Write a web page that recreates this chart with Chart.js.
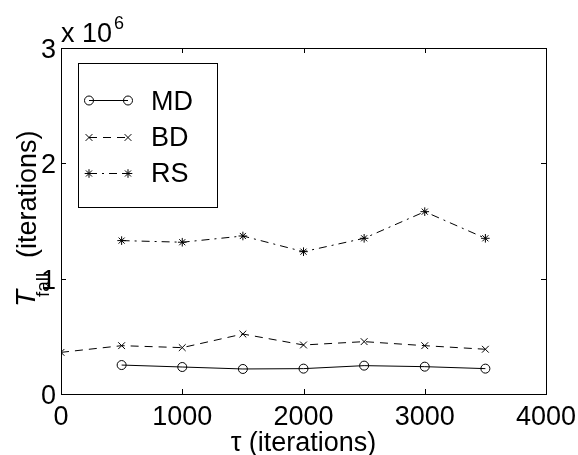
<!DOCTYPE html>
<html>
<head>
<meta charset="utf-8">
<script src="https://cdn.jsdelivr.net/npm/chart.js@4"></script>
<style>
html,body{margin:0;padding:0;background:#fff;}
#wrap{width:578px;height:455px;position:relative;}
</style>
</head>
<body>
<div id="wrap"><canvas id="c" width="578" height="455"></canvas></div>
<script>
// Data (values in iterations)
const tauMD = [500, 1000, 1500, 2000, 2500, 3000, 3500];
const valMD = [251000, 234000, 217000, 220000, 246000, 237000, 220000];
const tauBD = [0, 500, 1000, 1500, 2000, 2500, 3000, 3500];
const valBD = [361000, 419000, 402000, 520000, 425000, 454000, 419000, 388000];
const tauRS = [500, 1000, 1500, 2000, 2500, 3000, 3500];
const valRS = [1330000, 1316000, 1370000, 1234000, 1350000, 1581000, 1350000];
const xTicks = [0, 1000, 2000, 3000, 4000];
const yTicks = [0, 1000000, 2000000, 3000000];
const seriesNames = ['MD', 'BD', 'RS'];

const FONT = '"Liberation Sans", Arial, Helvetica, sans-serif';
const pts = (xs, ys) => xs.map((x, i) => ({x: x, y: ys[i]}));

const styles = [
  {dash: [], point: 'circle', r: 4.5},
  {dash: [8, 6], point: 'crossRot', r: 4.8},
  {dash: [8, 5, 2, 5], point: 'star', r: 4.3}
];

const framePlugin = {
  id: 'frame',
  afterDraw(chart) {
    const ctx = chart.ctx;
    const a = chart.chartArea;
    const xs = chart.scales.x, ys = chart.scales.y;
    ctx.save();
    ctx.strokeStyle = '#000';
    ctx.lineWidth = 1;
    ctx.setLineDash([]);
    // box
    ctx.strokeRect(Math.round(a.left) + 0.5, Math.round(a.top) + 0.5, Math.round(a.right - a.left), Math.round(a.bottom - a.top));
    // inward ticks
    const tl = 5;
    ctx.beginPath();
    xTicks.forEach(v => {
      const px = Math.round(xs.getPixelForValue(v)) + 0.5;
      ctx.moveTo(px, a.bottom); ctx.lineTo(px, a.bottom - tl);
      ctx.moveTo(px, a.top); ctx.lineTo(px, a.top + tl);
    });
    yTicks.forEach(v => {
      const py = Math.round(ys.getPixelForValue(v)) + 0.5;
      ctx.moveTo(a.left, py); ctx.lineTo(a.left + tl, py);
      ctx.moveTo(a.right, py); ctx.lineTo(a.right - tl, py);
    });
    ctx.stroke();

    // tick labels
    ctx.fillStyle = '#000';
    ctx.font = '27px ' + FONT;
    ctx.textAlign = 'center';
    ctx.textBaseline = 'alphabetic';
    xTicks.forEach(v => {
      ctx.fillText(String(v), xs.getPixelForValue(v), a.bottom + 31);
    });
    ctx.textAlign = 'right';
    yTicks.forEach(v => {
      const py = ys.getPixelForValue(v);
      ctx.fillText(String(v / 1e6), a.left - 5, py + 10);
    });

    // exponent label
    ctx.textAlign = 'left';
    ctx.font = '27px ' + FONT;
    ctx.fillText('x 10', 61, 42);
    const w = ctx.measureText('x 10').width;
    ctx.font = '18px ' + FONT;
    ctx.fillText('6', 63 + w, 29);

    // x axis title
    ctx.font = '27px ' + FONT;
    ctx.textAlign = 'center';
    ctx.fillText('\u03C4 (iterations)', (a.left + a.right) / 2, 451);

    // y axis title (rotated)
    ctx.save();
    ctx.rotate(-Math.PI / 2);
    ctx.textAlign = 'left';
    ctx.textBaseline = 'alphabetic';
    ctx.font = 'italic 28px ' + FONT;
    ctx.fillText('T', -307, 35);
    ctx.font = '19px ' + FONT;
    ctx.fillText('fall', -297, 49);
    ctx.font = '27px ' + FONT;
    ctx.fillText('(iterations)', -258, 36);
    ctx.restore();

    // legend box
    const lx = 78, ly = 63, lw = 139, lh = 144;
    ctx.setLineDash([]);
    ctx.lineWidth = 1;
    ctx.strokeRect(lx + 0.5, ly + 0.5, lw, lh);
    const rows = [100, 137, 173];
    const bases = [110, 146, 182];
    chart.data.datasets.forEach((ds, i) => {
      const y = rows[i] + 0.5;
      const st = styles[i];
      ctx.save();
      ctx.strokeStyle = '#000';
      ctx.fillStyle = 'rgba(0,0,0,0)';
      ctx.lineWidth = 1;
      ctx.setLineDash(st.dash);
      ctx.beginPath();
      ctx.moveTo(89, y); ctx.lineTo(128, y);
      ctx.stroke();
      ctx.setLineDash([]);
      Chart.helpers.drawPoint(ctx, {pointStyle: st.point, radius: st.r, rotation: 0, borderWidth: 1}, 89, y);
      Chart.helpers.drawPoint(ctx, {pointStyle: st.point, radius: st.r, rotation: 0, borderWidth: 1}, 128, y);
      ctx.restore();
      ctx.fillStyle = '#000';
      ctx.font = '27px ' + FONT;
      ctx.textAlign = 'left';
      ctx.textBaseline = 'alphabetic';
      ctx.fillText(ds.label, 151, bases[i]);
    });
    ctx.restore();
  }
};

const mk = (i, data) => ({
  label: seriesNames[i],
  data: data,
  borderColor: '#000',
  backgroundColor: 'rgba(0,0,0,0)',
  borderWidth: 1,
  borderDash: styles[i].dash,
  pointStyle: styles[i].point,
  pointRadius: styles[i].r,
  pointBorderColor: '#000',
  pointBackgroundColor: 'rgba(0,0,0,0)',
  pointBorderWidth: 1,
  tension: 0,
  fill: false
});

new Chart(document.getElementById('c'), {
  type: 'line',
  data: {
    datasets: [
      mk(0, pts(tauMD, valMD)),
      mk(1, pts(tauBD, valBD)),
      mk(2, pts(tauRS, valRS))
    ]
  },
  options: {
    responsive: false,
    animation: false,
    devicePixelRatio: 1,
    layout: {padding: {left: 0, top: 48, right: 32, bottom: 0}},
    plugins: {legend: {display: false}, tooltip: {enabled: false}},
    scales: {
      x: {
        type: 'linear', min: 0, max: 4000,
        grid: {display: false}, border: {display: false},
        ticks: {display: false},
        afterFit: s => { s.height = 61; }
      },
      y: {
        type: 'linear', min: 0, max: 3000000,
        grid: {display: false}, border: {display: false},
        ticks: {display: false},
        afterFit: s => { s.width = 61; }
      }
    }
  },
  plugins: [framePlugin]
});
</script>
</body>
</html>
